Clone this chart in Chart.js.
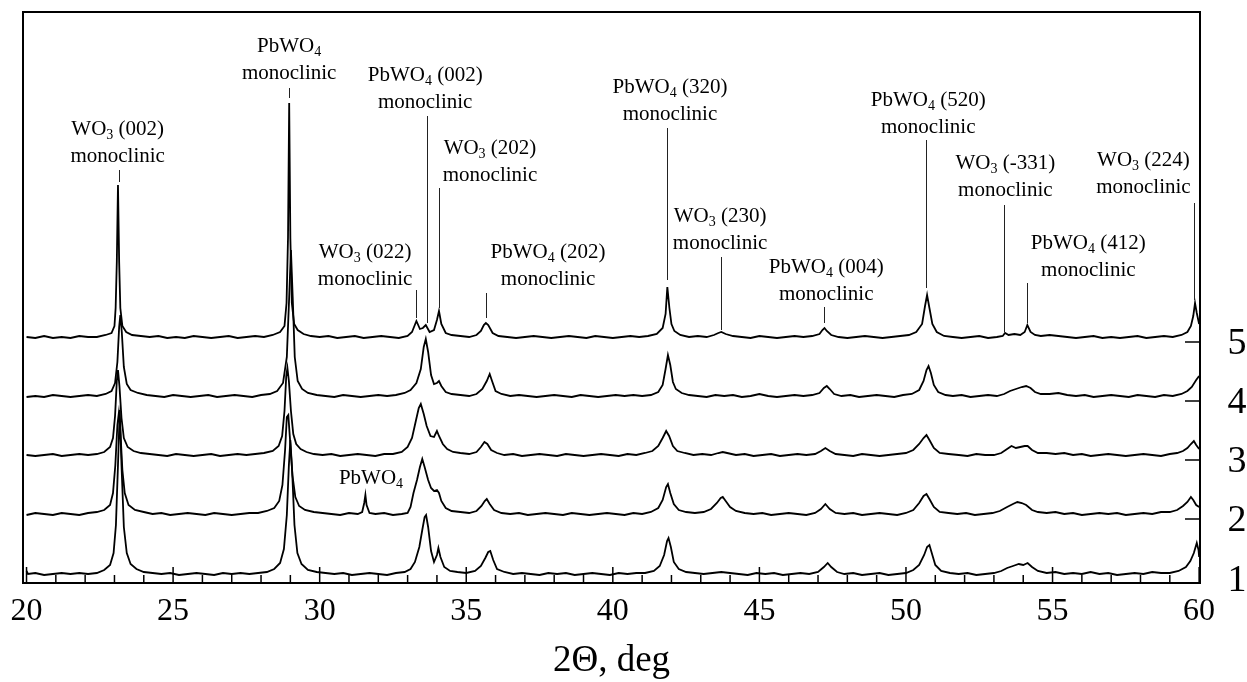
<!DOCTYPE html>
<html>
<head>
<meta charset="utf-8">
<title>XRD patterns</title>
<script src="https://cdn.jsdelivr.net/npm/chart.js@4"></script>
<style>
    body { margin: 0; background: #fff; }
    #wrap { position: relative; width: 1247px; height: 682px; }
</style>
</head>
<body>
<div id="wrap"><canvas id="xrd-chart"></canvas></div>
<script>
// 2theta (deg) / intensity above own baseline
const pattern1 = [
    [20.0,4],[20.05,1],[20.3,2],[20.6,0],[20.9,1],[21.2,2],[21.5,1],[21.8,2],[22.1,1],[22.4,2],[22.65,5],[22.85,10],[22.97,22],
    [23.05,50],[23.12,110],[23.18,165],[23.24,110],[23.32,48],[23.42,22],[23.55,11],[23.75,6],[24.0,3],[24.3,2],[24.6,1],
    [24.9,2],[25.2,0],[25.5,1],[25.8,2],[26.1,1],[26.4,0],[26.7,2],[27.0,1],[27.3,2],[27.6,1],[27.9,2],[28.2,3],[28.45,6],
    [28.65,12],[28.78,26],[28.88,60],[28.95,110],[29.0,135],[29.06,105],[29.14,50],[29.24,22],[29.38,11],[29.6,5],[29.9,3],
    [30.2,2],[30.5,1],[30.8,2],[31.1,0],[31.4,1],[31.7,2],[32.0,1],[32.3,0],[32.6,2],[32.9,3],[33.1,6],[33.25,13],[33.4,28],
    [33.5,45],[33.58,58],[33.63,60],[33.7,48],[33.8,24],[33.9,13],[34.0,20],[34.05,27],[34.12,18],[34.25,8],[34.45,4],
    [34.7,3],[35.0,2],[35.3,4],[35.5,9],[35.65,17],[35.75,23],[35.82,24],[35.92,15],[36.05,6],[36.3,3],[36.6,1],[36.9,2],
    [37.2,1],[37.5,0],[37.8,2],[38.1,1],[38.4,2],[38.7,0],[39.0,1],[39.3,2],[39.6,1],[39.9,0],[40.2,2],[40.5,1],[40.8,2],
    [41.1,2],[41.4,4],[41.6,9],[41.75,20],[41.85,34],[41.9,37],[41.98,28],[42.08,13],[42.25,6],[42.5,3],[42.8,2],[43.1,1],
    [43.4,2],[43.7,3],[44.0,2],[44.3,1],[44.6,0],[44.9,2],[45.2,1],[45.5,2],[45.8,0],[46.1,1],[46.4,2],[46.7,1],[47.0,3],
    [47.2,8],[47.33,12],[47.45,8],[47.65,3],[47.9,1],[48.2,2],[48.5,0],[48.8,1],[49.1,2],[49.4,0],[49.7,1],[50.0,2],
    [50.25,5],[50.45,10],[50.62,20],[50.72,28],[50.8,30],[50.88,22],[51.0,10],[51.2,4],[51.5,2],[51.8,1],[52.1,2],[52.4,0],
    [52.7,1],[53.0,2],[53.25,4],[53.45,7],[53.65,9],[53.85,11],[54.0,10],[54.15,12],[54.3,8],[54.5,4],[54.8,2],[55.1,3],
    [55.4,1],[55.7,2],[56.0,1],[56.3,3],[56.6,1],[56.9,2],[57.2,0],[57.5,1],[57.8,2],[58.1,1],[58.4,3],[58.7,2],[59.0,2],
    [59.3,4],[59.55,8],[59.7,14],[59.82,22],[59.92,32],[59.98,25],[60.0,18]
];
const pattern2 = [
    [20.0,0],[20.3,2],[20.6,1],[20.9,0],[21.2,2],[21.5,1],[21.8,0],[22.1,2],[22.4,3],[22.65,5],[22.85,10],[22.95,22],
    [23.03,50],[23.1,90],[23.15,102],[23.2,85],[23.27,45],[23.35,22],[23.48,10],[23.7,5],[24.0,3],[24.3,1],[24.6,2],
    [24.9,0],[25.2,1],[25.5,2],[25.8,1],[26.1,0],[26.4,2],[26.7,1],[27.0,0],[27.3,1],[27.6,2],[27.9,2],[28.2,4],[28.45,7],
    [28.62,14],[28.73,30],[28.82,65],[28.88,98],[28.93,100],[28.99,75],[29.07,40],[29.17,18],[29.3,9],[29.5,5],[29.8,3],
    [30.1,2],[30.4,1],[30.7,0],[31.0,2],[31.3,1],[31.45,3],[31.52,12],[31.56,20],[31.6,10],[31.7,2],[31.9,1],[32.2,2],
    [32.5,0],[32.8,1],[33.0,2],[33.1,8],[33.2,22],[33.32,35],[33.42,48],[33.5,56],[33.58,48],[33.7,35],[33.8,27],[33.9,24],
    [34.0,25],[34.07,22],[34.15,14],[34.3,7],[34.5,4],[34.8,3],[35.1,2],[35.35,4],[35.52,9],[35.63,14],[35.7,16],[35.8,11],
    [35.95,5],[36.2,2],[36.5,1],[36.8,2],[37.1,0],[37.4,1],[37.7,2],[38.0,1],[38.3,0],[38.6,2],[38.9,1],[39.2,0],[39.5,1],
    [39.8,2],[40.1,1],[40.4,0],[40.7,2],[41.0,1],[41.3,3],[41.55,7],[41.7,15],[41.82,28],[41.88,31],[41.96,22],[42.08,11],
    [42.25,5],[42.5,3],[42.8,2],[43.1,3],[43.35,6],[43.55,12],[43.68,17],[43.75,18],[43.85,14],[44.0,8],[44.2,4],[44.5,2],
    [44.8,1],[45.1,2],[45.4,0],[45.7,1],[46.0,2],[46.3,1],[46.6,0],[46.9,2],[47.1,6],[47.25,11],[47.4,6],[47.6,2],[47.9,1],
    [48.2,2],[48.5,0],[48.8,1],[49.1,2],[49.4,1],[49.7,0],[50.0,2],[50.25,5],[50.45,12],[50.6,19],[50.7,21],[50.8,16],
    [50.95,8],[51.15,3],[51.45,2],[51.75,1],[52.05,2],[52.35,0],[52.65,1],[52.95,2],[53.2,4],[53.45,8],[53.65,11],[53.8,13],
    [53.95,12],[54.1,10],[54.3,5],[54.5,3],[54.8,2],[55.1,3],[55.4,1],[55.7,2],[56.0,0],[56.3,1],[56.6,2],[56.9,1],[57.2,2],
    [57.5,0],[57.8,1],[58.1,2],[58.4,1],[58.7,3],[59.0,3],[59.25,5],[59.45,9],[59.6,13],[59.72,18],[59.8,15],[59.9,10],[60.0,8]
];
const pattern3 = [
    [20.0,1],[20.3,0],[20.6,1],[20.9,2],[21.2,0],[21.5,1],[21.8,2],[22.1,1],[22.4,2],[22.65,4],[22.85,9],[22.95,18],
    [23.02,40],[23.08,75],[23.12,86],[23.17,70],[23.24,38],[23.32,18],[23.45,9],[23.65,5],[23.9,3],[24.2,2],[24.5,1],
    [24.8,0],[25.1,2],[25.4,1],[25.7,0],[26.0,1],[26.3,2],[26.6,0],[26.9,1],[27.2,2],[27.5,1],[27.8,2],[28.1,3],[28.4,5],
    [28.6,10],[28.72,20],[28.8,45],[28.86,80],[28.9,88],[28.95,75],[29.02,45],[29.1,22],[29.2,12],[29.35,7],[29.55,4],
    [29.8,2],[30.1,1],[30.4,2],[30.7,0],[31.0,1],[31.3,2],[31.6,1],[31.9,0],[32.2,2],[32.5,2],[32.8,4],[33.0,9],[33.15,18],
    [33.28,35],[33.38,48],[33.45,52],[33.55,42],[33.65,30],[33.78,20],[33.9,19],[34.0,25],[34.07,20],[34.2,12],[34.35,7],
    [34.55,4],[34.8,3],[35.1,2],[35.35,4],[35.5,9],[35.62,14],[35.72,12],[35.85,6],[36.05,3],[36.3,1],[36.6,2],[36.9,0],
    [37.2,1],[37.5,2],[37.8,1],[38.1,0],[38.4,2],[38.7,1],[39.0,0],[39.3,1],[39.6,2],[39.9,1],[40.2,0],[40.5,2],[40.8,1],
    [41.1,3],[41.35,5],[41.55,10],[41.7,18],[41.82,25],[41.92,20],[42.05,10],[42.2,5],[42.45,3],[42.75,1],[43.05,2],
    [43.35,1],[43.6,3],[43.75,4],[43.9,3],[44.2,1],[44.5,2],[44.8,0],[45.1,1],[45.4,2],[45.7,0],[46.0,1],[46.3,2],[46.6,1],
    [46.9,2],[47.1,5],[47.25,8],[47.4,5],[47.6,2],[47.9,1],[48.2,0],[48.5,2],[48.8,1],[49.1,0],[49.4,1],[49.7,2],[50.0,3],
    [50.25,6],[50.45,12],[50.6,18],[50.7,21],[50.8,16],[50.95,8],[51.15,3],[51.45,2],[51.8,1],[52.1,0],[52.4,2],[52.7,1],
    [53.0,1],[53.25,3],[53.45,7],[53.6,10],[53.75,8],[53.9,9],[54.05,10],[54.15,10],[54.3,6],[54.5,3],[54.8,3],[55.1,2],
    [55.4,3],[55.7,1],[56.0,2],[56.3,0],[56.6,1],[56.9,2],[57.2,1],[57.5,0],[57.8,1],[58.1,2],[58.4,1],[58.7,0],[59.0,2],
    [59.25,3],[59.45,5],[59.6,8],[59.72,12],[59.82,15],[59.9,11],[60.0,7]
];
const pattern4 = [
    [20.0,0],[20.3,1],[20.6,0],[20.9,2],[21.2,1],[21.5,0],[21.8,1],[22.1,2],[22.4,1],[22.7,3],[22.9,6],[23.02,14],
    [23.1,35],[23.16,70],[23.2,82],[23.25,65],[23.32,30],[23.42,13],[23.55,7],[23.8,4],[24.1,2],[24.4,1],[24.7,0],[25.0,2],
    [25.3,1],[25.6,0],[25.9,1],[26.2,2],[26.5,0],[26.8,1],[27.1,2],[27.4,1],[27.7,0],[28.0,2],[28.3,3],[28.55,6],[28.75,14],
    [28.88,40],[28.96,100],[29.02,147],[29.08,100],[29.15,40],[29.25,16],[29.4,8],[29.6,4],[29.9,2],[30.2,1],[30.5,0],
    [30.8,2],[31.1,1],[31.4,0],[31.7,1],[32.0,2],[32.3,1],[32.6,2],[32.9,4],[33.1,7],[33.3,14],[33.45,28],[33.55,50],
    [33.62,58],[33.7,45],[33.8,22],[33.9,13],[34.0,14],[34.07,16],[34.15,11],[34.3,5],[34.5,3],[34.8,2],[35.1,1],[35.35,3],
    [35.55,8],[35.7,16],[35.8,23],[35.88,16],[36.0,6],[36.2,3],[36.5,1],[36.8,2],[37.1,1],[37.4,0],[37.7,1],[38.0,2],
    [38.3,1],[38.6,0],[38.9,2],[39.2,1],[39.5,0],[39.8,1],[40.1,2],[40.4,1],[40.7,2],[41.0,1],[41.3,2],[41.55,5],[41.7,12],
    [41.8,28],[41.88,42],[41.96,32],[42.05,15],[42.15,8],[42.35,4],[42.6,2],[42.9,1],[43.2,0],[43.5,2],[43.8,1],[44.1,2],
    [44.4,0],[44.7,1],[45.0,3],[45.3,1],[45.6,0],[45.9,1],[46.2,2],[46.5,1],[46.8,2],[47.05,4],[47.2,9],[47.3,11],[47.4,8],
    [47.55,3],[47.8,1],[48.1,2],[48.4,0],[48.7,1],[49.0,2],[49.3,1],[49.6,0],[49.9,2],[50.2,3],[50.45,7],[50.6,16],[50.7,27],
    [50.77,31],[50.85,24],[50.95,12],[51.1,5],[51.35,2],[51.6,1],[51.9,2],[52.2,0],[52.5,1],[52.8,2],[53.1,1],[53.35,3],
    [53.55,6],[53.75,8],[53.95,10],[54.1,11],[54.25,9],[54.4,5],[54.6,3],[54.9,3],[55.2,4],[55.5,2],[55.8,1],[56.1,2],
    [56.4,0],[56.7,1],[57.0,2],[57.3,1],[57.6,0],[57.9,2],[58.2,1],[58.5,0],[58.8,2],[59.1,1],[59.4,3],[59.6,6],[59.75,10],
    [59.9,17],[60.0,21]
];
const pattern5 = [
    [20.0,1],[20.3,0],[20.6,2],[20.9,0],[21.2,1],[21.5,0],[21.8,2],[22.1,1],[22.4,1],[22.7,3],[22.9,5],[23.0,12],[23.04,30],
    [23.08,76],[23.12,153],[23.16,76],[23.2,30],[23.27,12],[23.4,6],[23.6,3],[23.9,2],[24.2,1],[24.5,2],[24.8,0],[25.1,1],
    [25.4,0],[25.7,2],[26.0,1],[26.3,0],[26.6,1],[26.9,2],[27.2,0],[27.5,1],[27.8,2],[28.1,1],[28.4,3],[28.65,6],[28.8,12],
    [28.87,35],[28.92,100],[28.96,235],[29.0,100],[29.05,35],[29.13,14],[29.25,8],[29.45,4],[29.7,2],[30.0,1],[30.3,2],
    [30.6,0],[30.9,1],[31.2,2],[31.5,0],[31.8,1],[32.1,2],[32.4,1],[32.7,0],[33.0,2],[33.15,6],[33.3,17],[33.42,9],
    [33.52,10],[33.62,13],[33.75,6],[33.9,8],[34.0,18],[34.07,27],[34.15,14],[34.3,5],[34.5,3],[34.8,2],[35.1,1],[35.35,3],
    [35.5,7],[35.6,13],[35.67,15],[35.75,13],[35.9,5],[36.1,2],[36.4,1],[36.7,0],[37.0,1],[37.3,2],[37.6,1],[37.9,0],
    [38.2,1],[38.5,2],[38.8,1],[39.1,0],[39.4,2],[39.7,1],[40.0,0],[40.3,1],[40.6,2],[40.9,1],[41.2,2],[41.5,4],[41.7,10],
    [41.8,24],[41.86,51],[41.93,30],[42.0,14],[42.1,7],[42.3,3],[42.6,1],[42.9,2],[43.2,1],[43.45,3],[43.6,5],[43.7,6],
    [43.85,4],[44.1,2],[44.4,1],[44.7,0],[45.0,2],[45.3,1],[45.6,0],[45.9,1],[46.2,2],[46.5,1],[46.8,2],[47.05,4],[47.15,8],
    [47.22,10],[47.3,7],[47.45,3],[47.7,1],[48.0,0],[48.3,1],[48.6,2],[48.9,1],[49.2,0],[49.5,1],[49.8,2],[50.1,3],[50.35,6],
    [50.55,14],[50.65,32],[50.72,43],[50.8,30],[50.9,14],[51.05,6],[51.3,2],[51.6,1],[51.9,0],[52.2,1],[52.5,2],[52.8,0],
    [53.1,1],[53.3,2],[53.38,5],[53.5,3],[53.7,4],[53.9,3],[54.05,6],[54.14,13],[54.25,6],[54.4,3],[54.6,2],[54.9,3],
    [55.2,2],[55.5,1],[55.8,0],[56.1,1],[56.4,2],[56.7,0],[57.0,1],[57.3,0],[57.6,1],[57.9,2],[58.2,0],[58.5,1],[58.8,2],
    [59.1,1],[59.4,3],[59.6,6],[59.72,12],[59.8,22],[59.86,35],[59.92,25],[60.0,14]
];

const traceLabels = ['1', '2', '3', '4', '5'];
const traceOffsets = [8, 68, 127, 186, 245];
const xTickLabels = [20, 25, 30, 35, 40, 45, 50, 55, 60];

// reflections: 2theta of the marker, phase and hkl
const peakLabels = [
    { x: 23.15, text: ['WO3 (002)', 'monoclinic'], tx: 23.11, ty: 454, top: 413, bottom: 401 },
    { x: 28.95, text: ['PbWO4', 'monoclinic'], tx: 28.96, ty: 537, top: 495, bottom: 485 },
    { x: 33.66, text: ['PbWO4 (002)', 'monoclinic'], tx: 33.6, ty: 508, top: 467, bottom: 260 },
    { x: 34.07, text: ['WO3 (202)', 'monoclinic'], tx: 35.81, ty: 435, top: 395, bottom: 275 },
    { x: 33.29, text: ['WO3 (022)', 'monoclinic'], tx: 31.55, ty: 331, top: 293, bottom: 265 },
    { x: 35.67, text: ['PbWO4 (202)', 'monoclinic'], tx: 37.79, ty: 331, top: 290, bottom: 265 },
    { x: 41.85, text: ['PbWO4 (320)', 'monoclinic'], tx: 41.95, ty: 496, top: 455, bottom: 303 },
    { x: 43.69, text: ['WO3 (230)', 'monoclinic'], tx: 43.66, ty: 367, top: 326, bottom: 253 },
    { x: 47.21, text: ['PbWO4 (004)', 'monoclinic'], tx: 47.28, ty: 316, top: 276, bottom: 260 },
    { x: 50.69, text: ['PbWO4 (520)', 'monoclinic'], tx: 50.76, ty: 483, top: 443, bottom: 295 },
    { x: 53.36, text: ['WO3 (-331)', 'monoclinic'], tx: 53.39, ty: 420, top: 378, bottom: 251 },
    { x: 54.14, text: ['PbWO4 (412)', 'monoclinic'], tx: 56.22, ty: 340, top: 300, bottom: 260 },
    { x: 59.84, text: ['WO3 (224)', 'monoclinic'], tx: 58.1, ty: 423, top: 380, bottom: 283 },
    { x: null, text: ['PbWO4'], tx: 31.75, ty: 105 }
];

const xrdChart = (function () {
    const SERIF = '"Liberation Serif", "Times New Roman", serif';

    function getDatasets() {
        const patterns = [pattern1, pattern2, pattern3, pattern4, pattern5];

        return patterns.map(function (pattern, i) {
            return {
                label: traceLabels[i],
                data: pattern.map(p => ({ x: p[0], y: p[1] + traceOffsets[i] })),
                borderColor: '#000',
                borderWidth: 1.8,
                pointRadius: 0,
                tension: 0,
                fill: false
            };
        });
    }

    // formula with a subscript digit, e.g. WO3 -> WO + 3
    function drawFormula(ctx, str, cx, cy, size) {
        const m = str.match(/^([A-Za-z]+?)(\d)(.*)$/);
        const parts = m ? [[m[1], false], [m[2], true], [m[3], false]] : [[str, false]];
        const subSize = Math.round(size * 0.68);
        let width = 0;
        parts.forEach(function (p) {
            ctx.font = (p[1] ? subSize : size) + 'px ' + SERIF;
            width += ctx.measureText(p[0]).width;
        });
        let x = cx - width / 2;
        ctx.textAlign = 'left';
        ctx.textBaseline = 'middle';
        parts.forEach(function (p) {
            ctx.font = (p[1] ? subSize : size) + 'px ' + SERIF;
            ctx.fillText(p[0], x, p[1] ? cy + size * 0.3 : cy);
            x += ctx.measureText(p[0]).width;
        });
    }

    const decorations = {
        id: 'decorations',
        afterDatasetsDraw(chart) {
            const ctx = chart.ctx;
            const area = chart.chartArea;
            const xs = chart.scales.x;
            const ys = chart.scales.y;
            ctx.save();

            // frame
            ctx.strokeStyle = '#000';
            ctx.lineWidth = 2;
            ctx.strokeRect(area.left, area.top, area.right - area.left, area.bottom - area.top);

            // bottom ticks, inward
            ctx.lineWidth = 1.5;
            for (let v = 20; v <= 60; v++) {
                const px = xs.getPixelForValue(v);
                const len = v % 5 === 0 ? 16 : 8;
                ctx.beginPath();
                ctx.moveTo(px, area.bottom);
                ctx.lineTo(px, area.bottom - len);
                ctx.stroke();
            }

            ctx.fillStyle = '#000';
            ctx.font = '32px ' + SERIF;
            ctx.textAlign = 'center';
            ctx.textBaseline = 'middle';
            xTickLabels.forEach(function (v) {
                ctx.fillText(String(v), xs.getPixelForValue(v), area.bottom + 29);
            });
            ctx.font = '37px ' + SERIF;
            ctx.fillText('2\u0398, deg', (area.left + area.right) / 2, area.bottom + 78);

            // trace baselines on the right
            traceOffsets.forEach(function (off, i) {
                const py = ys.getPixelForValue(off - 4);
                if (i > 0) {
                    ctx.beginPath();
                    ctx.moveTo(area.right - 15, py);
                    ctx.lineTo(area.right, py);
                    ctx.stroke();
                }
                ctx.font = '38px ' + SERIF;
                ctx.textAlign = 'center';
                ctx.fillText(traceLabels[i], area.right + 37, py + 2);
            });

            // reflection labels
            ctx.strokeStyle = '#222';
            ctx.lineWidth = 1;
            peakLabels.forEach(function (a) {
                const cx = xs.getPixelForValue(a.tx);
                a.text.forEach(function (line, k) {
                    drawFormula(ctx, line, cx, ys.getPixelForValue(a.ty) + k * 27, 21);
                });
                if (a.x !== null) {
                    const px = Math.round(xs.getPixelForValue(a.x)) + 0.5;
                    ctx.beginPath();
                    ctx.moveTo(px, ys.getPixelForValue(a.top));
                    ctx.lineTo(px, ys.getPixelForValue(a.bottom));
                    ctx.stroke();
                }
            });

            ctx.restore();
        }
    };

    function config(chartEle) {
        const config = {
            type: 'line',
            data: { datasets: getDatasets() },
            options: {
                responsive: true,
                maintainAspectRatio: false,
                animation: false,
                layout: { padding: { left: 23, right: 47, top: 12, bottom: 99 } },
                plugins: {
                    legend: { display: false },
                    tooltip: { enabled: false }
                },
                scales: {
                    x: { type: 'linear', min: 19.88, max: 60.03, display: false },
                    y: { type: 'linear', min: 0, max: 571, display: false }
                }
            },
            plugins: [decorations]
        };

        return new Chart(chartEle, config);
    }

    return {
        configureChart: function () {
            const chartEle = document.getElementById('xrd-chart');
            config(chartEle);
        }
    };
})();

xrdChart.configureChart();
</script>
</body>
</html>
